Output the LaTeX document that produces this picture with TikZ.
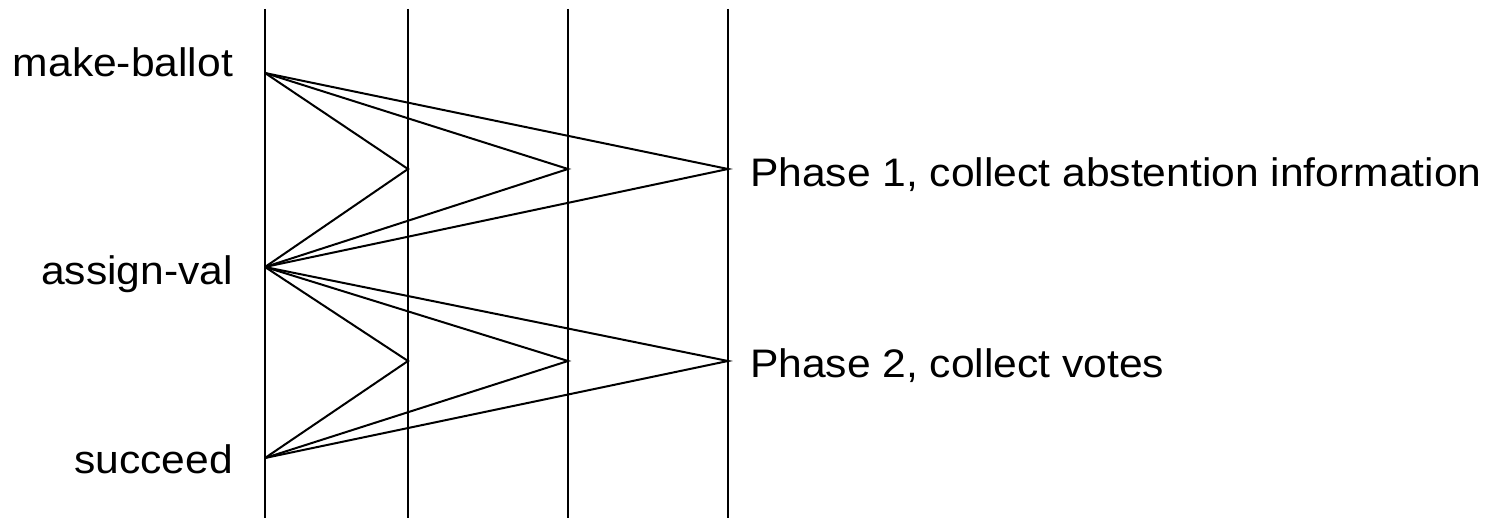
\documentclass[tikz,border=0pt]{standalone}
\usepackage{fontspec}
\setmainfont[FakeStretch=1.07]{Liberation Sans}
\begin{document}
\begin{tikzpicture}[x=0.5pt, y=-0.5pt, line width=1pt,
  lbl/.style={inner sep=0pt, font=\fontsize{19.9}{23}\selectfont}]
\useasboundingbox (0,0) rectangle (1499,518);

\draw (265,9) -- (265,518); % process lines
\draw (408,9) -- (408,518);
\draw (568,9) -- (568,518);
\draw (728,9) -- (728,518);

\coordinate (mb) at (265,73); % make-ballot point
\coordinate (av) at (265,267); % assign-val point
\coordinate (sc) at (265,458); % succeed point
\coordinate (pa1) at (408,169); % phase 1 points
\coordinate (pb1) at (568,169);
\coordinate (pc1) at (728,169);
\coordinate (pa2) at (408,361); % phase 2 points
\coordinate (pb2) at (568,361);
\coordinate (pc2) at (728,361);

\node[lbl, anchor=base east] (mbl) at (234,77) {make-ballot}; % left labels
\node[lbl, anchor=base east] (avl) at (234,285) {assign-val};
\node[lbl, anchor=base east] (scl) at (234,473) {succeed};

\draw (mb) -- (pa1) -- (av); % phase 1 messages
\draw (mb) -- (pb1) -- (av);
\draw (mb) -- (pc1) -- (av);
\node[lbl, anchor=base west] (ph1) at (749,187) {Phase 1, collect abstention information}; % phase 1 label

\draw (av) -- (pa2) -- (sc); % phase 2 messages
\draw (av) -- (pb2) -- (sc);
\draw (av) -- (pc2) -- (sc);
\node[lbl, anchor=base west] (ph2) at (749,377) {Phase 2, collect votes}; % phase 2 label

\end{tikzpicture}
\end{document}
